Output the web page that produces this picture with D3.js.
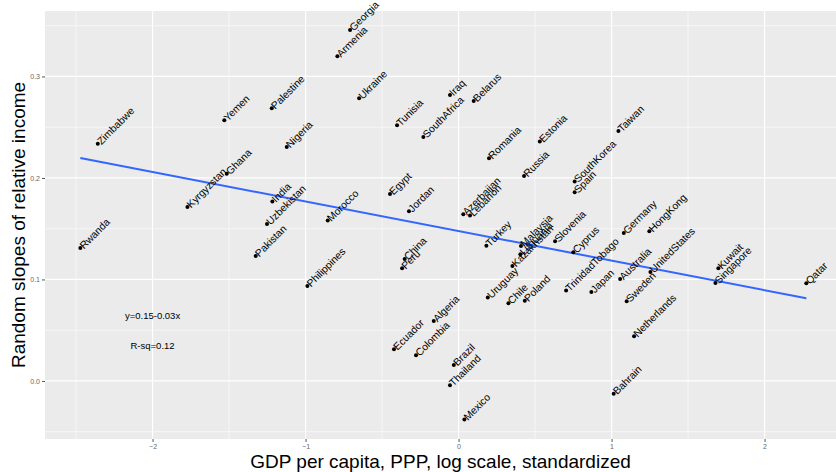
<!DOCTYPE html>
<html><head><meta charset="utf-8">
<script src="https://cdn.jsdelivr.net/npm/d3@7"></script>
<style>html,body{margin:0;padding:0;background:#fff;}svg{display:block;}</style>
</head><body><svg id="c" width="836" height="472"></svg>
<script>
const countries = ["Zimbabwe","Yemen","Palestine","Nigeria","Ghana","Kyrgyzstan","India","Uzbekistan","Rwanda","Pakistan",
"Georgia","Armenia","Ukraine","Iraq","Belarus","Tunisia","SouthAfrica","Romania","Estonia","Russia",
"Egypt","Jordan","Morocco","Azerbaijan","Lebanon","Taiwan","SouthKorea","Spain","Germany","HongKong",
"Cyprus","UnitedStates","Australia","TrinidadTobago","Japan","Kuwait","Singapore","Qatar","Sweden","Netherlands",
"Bahrain","Philippines","China","Peru","Turkey","Malaysia","Lithuania","Kazakhstan","Slovenia","Uruguay",
"Chile","Poland","Algeria","Ecuador","Colombia","Brazil","Thailand","Mexico"];
const gdp = [-2.358,-1.531,-1.221,-1.123,-1.515,-1.772,-1.217,-1.252,-2.472,-1.326,
-0.709,-0.792,-0.650,-0.056,0.099,-0.402,-0.230,0.199,0.531,0.428,
-0.448,-0.324,-0.855,0.031,0.075,1.045,0.759,0.759,1.080,1.247,
0.750,1.254,1.056,0.703,0.868,1.698,1.679,2.273,1.099,1.147,
1.014,-0.988,-0.352,-0.369,0.182,0.408,0.404,0.352,0.631,0.191,
0.326,0.433,-0.162,-0.422,-0.278,-0.031,-0.056,0.038];
const slope = [0.2338,0.2568,0.2687,0.2305,0.2042,0.1714,0.1767,0.1547,0.1310,0.1232,
0.3458,0.3199,0.2785,0.2818,0.2759,0.2519,0.2404,0.2194,0.2358,0.2020,
0.1842,0.1672,0.1580,0.1642,0.1629,0.2463,0.1964,0.1859,0.1458,0.1475,
0.1268,0.1074,0.1005,0.0890,0.0877,0.1110,0.0966,0.0962,0.0785,0.0440,
-0.0125,0.0936,0.1202,0.1110,0.1333,0.1330,0.1248,0.1133,0.1376,0.0821,
0.0765,0.0791,0.0591,0.0312,0.0253,0.0158,-0.0043,-0.0381];
const fitIntercept = 0.1477, fitSlope = -0.02913;
const xTicks = [-2,-1,0,1,2];
const yTicks = [0.0,0.1,0.2,0.3];
const annotations = ["y=0.15-0.03x","R-sq=0.12"];
const annX = [-2,-2], annY = [0.0643,0.0348];

const svg = d3.select("#c");
const L=45, R=836, T=11, B=439;
const x = d3.scaleLinear().domain([-2.703,2.467]).range([L,R]);
const y = d3.scaleLinear().domain([-0.0572,0.3645]).range([B,T]);
const font = "'Liberation Sans', Arial, Helvetica, sans-serif";

svg.append("rect").attr("x",L).attr("y",T).attr("width",R-L).attr("height",B-T).attr("fill","#EBEBEB");
const g = svg.append("g");
const xMinor = d3.range(-2.5,2.51,1), yMinor = d3.range(-0.05,0.36,0.1);
g.selectAll(".xm").data(xMinor).join("line").attr("x1",d=>x(d)).attr("x2",d=>x(d)).attr("y1",T).attr("y2",B).attr("stroke","#fff").attr("stroke-width",0.6);
g.selectAll(".ym").data(yMinor).join("line").attr("y1",d=>y(d)).attr("y2",d=>y(d)).attr("x1",L).attr("x2",R).attr("stroke","#fff").attr("stroke-width",0.6);
g.selectAll(".xM").data(xTicks).join("line").attr("x1",d=>x(d)).attr("x2",d=>x(d)).attr("y1",T).attr("y2",B).attr("stroke","#fff").attr("stroke-width",1.2);
g.selectAll(".yM").data(yTicks).join("line").attr("y1",d=>y(d)).attr("y2",d=>y(d)).attr("x1",L).attr("x2",R).attr("stroke","#fff").attr("stroke-width",1.2);

const xa = svg.append("g").attr("transform",`translate(0,${B})`).call(d3.axisBottom(x).tickValues(xTicks).tickSize(3).tickPadding(2).tickFormat(d3.format("d")));
const ya = svg.append("g").attr("transform",`translate(${L},0)`).call(d3.axisLeft(y).tickValues(yTicks).tickSize(3).tickPadding(2).tickFormat(d3.format(".1f")));
[xa,ya].forEach(a=>{a.select(".domain").remove();a.selectAll("line").attr("stroke","#555");a.selectAll("text").attr("fill","#666").attr("font-size","7px").attr("font-family",font);});

const xs = [d3.min(gdp), d3.max(gdp)];
svg.append("line").attr("x1",x(xs[0])).attr("y1",y(fitIntercept+fitSlope*xs[0])).attr("x2",x(xs[1])).attr("y2",y(fitIntercept+fitSlope*xs[1]))
 .attr("stroke","#3366FF").attr("stroke-width",2);

const data = countries.map((c,i)=>({c, gx:gdp[i], s:slope[i]}));
svg.selectAll(".pt").data(data).join("circle").attr("cx",d=>x(d.gx)).attr("cy",d=>y(d.s)).attr("r",2).attr("fill","#000");
svg.selectAll(".lb").data(data).join("text")
 .attr("transform",d=>`translate(${x(d.gx)},${y(d.s)}) rotate(-45)`)
 .attr("x",1.5).attr("dy","0.35em").attr("font-size","10.3px").attr("font-family",font).attr("fill","#000").text(d=>d.c);

svg.selectAll(".an").data(annotations).join("text").attr("x",(d,i)=>x(annX[i])).attr("y",(d,i)=>y(annY[i])).attr("dy","0.35em")
 .attr("text-anchor","middle").attr("font-size","9.5px").attr("font-family",font).attr("fill","#000").text(d=>d);

svg.append("text").attr("x",(L+R)/2).attr("y",468).attr("text-anchor","middle").attr("font-size","19px").attr("font-family",font).attr("fill","#000").text("GDP per capita, PPP, log scale, standardized");
svg.append("text").attr("transform",`translate(25,${(T+B)/2}) rotate(-90)`).attr("text-anchor","middle").attr("font-size","19px").attr("font-family",font).attr("fill","#000").text("Random slopes of relative income");
</script></body></html>
